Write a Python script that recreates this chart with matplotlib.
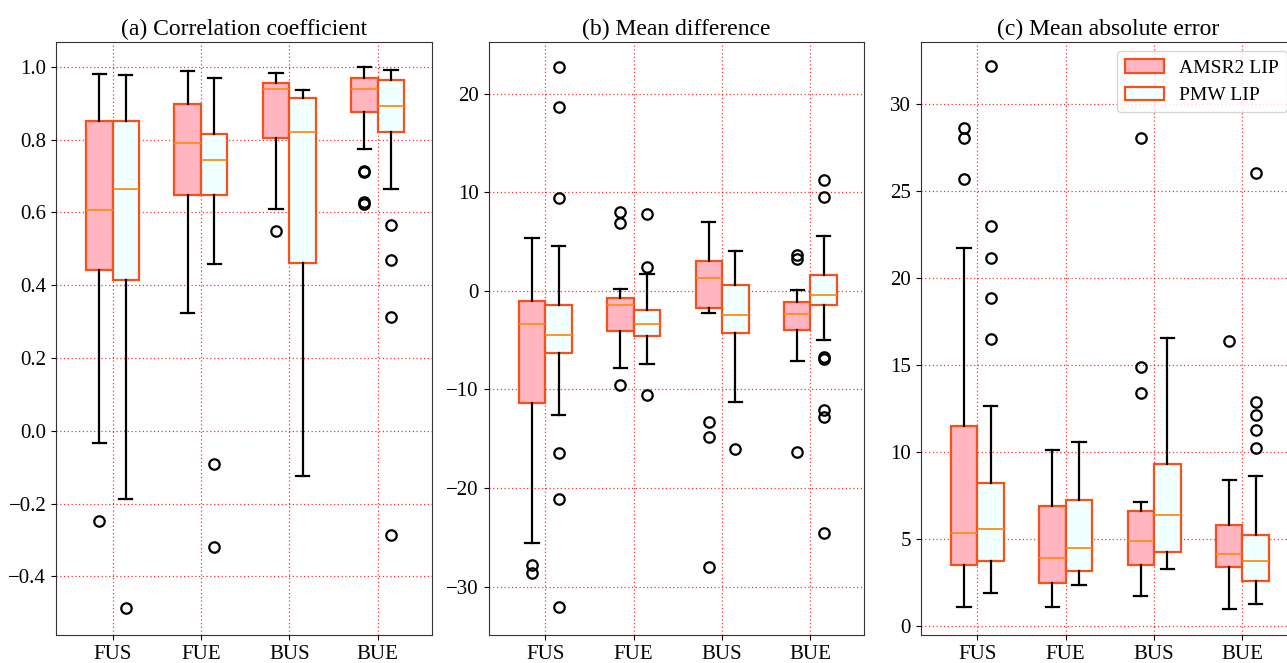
import numpy as np
import matplotlib
matplotlib.use('Agg')
import matplotlib.pyplot as plt
from matplotlib.patches import Patch

plt.rcParams['font.family'] = ['Liberation Serif', 'DejaVu Serif']

cats = ['FUS', 'FUE', 'BUS', 'BUE']
series = ['AMSR2 LIP', 'PMW LIP']

# each row: [whislo, q1, median, q3, whishi] per category
# (a) correlation coefficient
cc_amsr2 = [[-0.033, 0.443, 0.606, 0.851, 0.980],
            [0.324, 0.649, 0.790, 0.899, 0.988],
            [0.608, 0.805, 0.938, 0.956, 0.984],
            [0.773, 0.876, 0.938, 0.968, 0.999]]
cc_amsr2_out = [[-0.248], [], [0.549], [0.715, 0.710, 0.628, 0.622]]
cc_pmw = [[-0.187, 0.414, 0.663, 0.851, 0.977],
          [0.457, 0.649, 0.744, 0.816, 0.970],
          [-0.125, 0.461, 0.822, 0.915, 0.935],
          [0.665, 0.820, 0.892, 0.963, 0.992]]
cc_pmw_out = [[-0.486], [-0.091, -0.319], [], [0.565, 0.468, 0.312, -0.287]]

# (b) mean difference
md_amsr2 = [[-25.6, -11.4, -3.4, -1.05, 5.35],
            [-7.84, -4.05, -1.43, -0.75, 0.15],
            [-2.25, -1.74, 1.31, 2.99, 6.94],
            [-7.11, -3.93, -2.38, -1.13, 0.11]]
md_amsr2_out = [[-27.85, -28.58], [8.02, 6.86, -9.55],
                [-13.33, -14.84, -27.98], [3.59, 3.25, -16.38]]
md_pmw = [[-12.6, -6.33, -4.48, -1.39, 4.54],
          [-7.41, -4.61, -3.32, -1.99, 1.70],
          [-11.27, -4.31, -2.47, 0.58, 4.02],
          [-4.96, -1.39, -0.45, 1.66, 5.57]]
md_pmw_out = [[22.75, 18.63, 9.43, -16.47, -21.11, -32.10],
              [7.76, 2.39, -10.54], [-16.0],
              [11.28, 9.52, -6.68, -6.89, -12.05, -12.78, -24.54]]

# (c) mean absolute error
mae_amsr2 = [[1.10, 3.47, 5.30, 11.48, 21.72],
             [1.10, 2.47, 3.88, 6.89, 10.11],
             [1.73, 3.47, 4.86, 6.59, 7.11],
             [0.97, 3.35, 4.13, 5.79, 8.36]]
mae_amsr2_out = [[28.58, 28.02, 25.65], [], [28.02, 14.85, 13.36], [16.34]]
mae_pmw = [[1.86, 3.71, 5.57, 8.21, 12.60],
           [2.34, 3.17, 4.49, 7.25, 10.55],
           [3.27, 4.25, 6.35, 9.31, 16.56],
           [1.24, 2.59, 3.74, 5.20, 8.62]]
mae_pmw_out = [[32.17, 22.99, 21.11, 18.86, 16.49], [], [],
               [25.99, 12.87, 12.09, 11.26, 10.23]]

pink = '#FFB6C1'
cyan = '#F0FFFF'
edge = '#F4511E'
medc = '#FF8C1A'


def make_stats(five, out):
    return [dict(whislo=f[0], q1=f[1], med=f[2], q3=f[3], whishi=f[4], fliers=o)
            for f, o in zip(five, out)]


panels = [
    ('(a) Correlation coefficient', cc_amsr2, cc_amsr2_out, cc_pmw, cc_pmw_out,
     (-0.562, 1.069), [-0.4, -0.2, 0.0, 0.2, 0.4, 0.6, 0.8, 1.0]),
    ('(b) Mean difference', md_amsr2, md_amsr2_out, md_pmw, md_pmw_out,
     (-34.93, 25.27), [-30, -20, -10, 0, 10, 20]),
    ('(c) Mean absolute error', mae_amsr2, mae_amsr2_out, mae_pmw, mae_pmw_out,
     (-0.55, 33.56), [0, 5, 10, 15, 20, 25, 30]),
]
lefts = [0.0435, 0.3797, 0.7154]

fig = plt.figure(figsize=(12.87, 6.63), dpi=100)
pos = np.arange(len(cats))
for left, (title, s1, o1, s2, o2, ylim, yt) in zip(lefts, panels):
    ax = fig.add_axes([left, 0.0418, 0.2919, 0.8953])
    for st, out, fc, off in [(s1, o1, pink, -0.15), (s2, o2, cyan, 0.15)]:
        ax.bxp(make_stats(st, out), positions=pos + off, widths=0.3,
               patch_artist=True, manage_ticks=False,
               boxprops=dict(facecolor=fc, edgecolor=edge, linewidth=1.6),
               medianprops=dict(color=medc, linewidth=1.3),
               whiskerprops=dict(color='black', linewidth=1.6),
               capprops=dict(color='black', linewidth=1.6),
               flierprops=dict(marker='o', markerfacecolor='none',
                               markeredgecolor='black', markersize=7.5,
                               markeredgewidth=1.6))
    ax.set_xticks(pos)
    ax.set_xticklabels(cats)
    ax.set_yticks(yt)
    ax.set_xlim(-0.64, 3.61)
    ax.set_ylim(*ylim)
    ax.tick_params(labelsize=15)
    ax.grid(True, color='red', linestyle=(0, (1, 2)), linewidth=0.9, alpha=0.8)
    ax.set_title(title, fontsize=17, pad=5)
    for sp in ax.spines.values():
        sp.set_color('#333333')

handles = [Patch(facecolor=pink, edgecolor=edge, linewidth=1.6),
           Patch(facecolor=cyan, edgecolor=edge, linewidth=1.6)]
ax.legend(handles, series, loc='upper right', fontsize=14)

fig.savefig('out.png', dpi=100)
